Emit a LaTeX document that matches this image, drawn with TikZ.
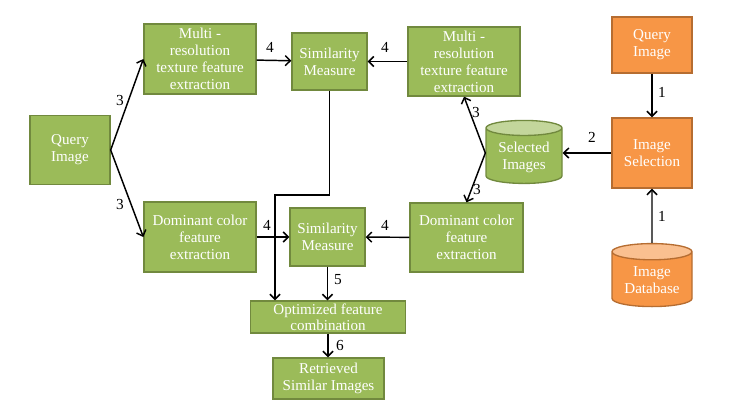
\documentclass[tikz,border=0pt]{standalone}
\usepackage{fontspec}
\setmainfont{Liberation Serif}
\usepackage{tikz}
\usetikzlibrary{shapes.geometric, arrows.meta, calc}
\usepackage{xcolor}
\definecolor{olivebox}{RGB}{155,187,89}
\definecolor{oliveline}{RGB}{113,137,62}
\definecolor{olivetop}{RGB}{195,214,155}
\definecolor{orangebox}{RGB}{247,150,70}
\definecolor{orangeline}{RGB}{182,109,49}
\definecolor{orangetop}{RGB}{250,192,144}

\begin{document}
\begin{tikzpicture}[x=0.75pt,y=-0.75pt]
        \tikzstyle{box}=[rectangle,draw=oliveline,fill=olivebox,line width=1pt,text=white,align=center,inner sep=1pt,font=\fontsize{11.3}{12.8}\selectfont]
        \tikzstyle{obox}=[box,draw=orangeline,fill=orangebox]
        \tikzstyle{db}=[cylinder,shape border rotate=90,aspect=0.28,draw=oliveline,line width=1pt,text=white,align=center,inner sep=1pt,font=\fontsize{11.3}{12.8}\selectfont,cylinder uses custom fill,cylinder body fill=olivebox,cylinder end fill=olivetop]
        \tikzstyle{odb}=[db,draw=orangeline,cylinder body fill=orangebox,cylinder end fill=orangetop]
        \tikzstyle{num}=[inner sep=0pt,font=\fontsize{11.5}{12}\selectfont]
        \tikzstyle{link}=[line width=1.1pt,-{Straight Barb[length=3.8pt,width=7.5pt]}]
        \useasboundingbox (0,0) rectangle (748,415);
        % left branch
        \node (qimg)[box,minimum width=60pt,minimum height=51.75pt] at (70,150) {Query\\Image};
        \node (mtl)[box,minimum width=84pt,minimum height=52.5pt] at (200,59) {Multi -\\resolution\\texture feature\\extraction};
        \node (dcl)[box,minimum width=84pt,minimum height=52.5pt] at (200,237) {Dominant color\\feature\\extraction};
        % similarity measures
        \node (simt)[box,minimum width=56.25pt,minimum height=42.75pt] at (329.5,61.5) {Similarity\\Measure};
        \node (simb)[box,minimum width=56.25pt,minimum height=43.5pt] at (327.5,237) {Similarity\\Measure};
        % right branch
        \node (mtr)[box,minimum width=84pt,minimum height=51.75pt] at (464,61.5) {Multi -\\resolution\\texture feature\\extraction};
        \node (dcr)[box,minimum width=84.75pt,minimum height=51.75pt] at (466.5,237.5) {Dominant color\\feature\\extraction};
        \node (sel)[db,minimum width=57pt,minimum height=47.25pt] at (524,157) {Selected\\Images};
        % query side
        \node (qorg)[obox,minimum width=60pt,minimum height=42pt] at (652,45) {Query\\Image};
        \node (isel)[obox,minimum width=60pt,minimum height=52.5pt] at (652,153) {Image\\Selection};
        \node (idb)[odb,minimum width=60pt,minimum height=47.25pt] at (652,280.5) {Image\\Database};
        % output
        \node (opt)[box,minimum width=116.25pt,minimum height=24pt,inner sep=0pt,font=\fontsize{11.3}{12.3}\selectfont] at (328,317) {Optimized feature\\combination};
        \node (ret)[box,minimum width=83.25pt,minimum height=30.75pt] at (328.5,378.5) {Retrieved\\Similar Images};
        % connectors
        \coordinate (selw) at (sel.west |- isel.west);
        \draw[link] (qorg) -- (isel);
        \draw[link] (idb) -- (isel);
        \draw[link] (isel.west) -- (isel.west -| sel.east);
        \draw[link] (selw) -- (mtr.south);
        \draw[link] (selw) -- (dcr.north);
        \draw[link] (qimg.east) -- (mtl.west);
        \draw[link] (qimg.east) -- (dcl.west);
        \draw[link] (mtl) -- (simt);
        \draw[link] (mtr) -- (simt);
        \draw[link] (dcl) -- (simb);
        \draw[link] (dcr) -- (simb);
        \coordinate (bend) at (275,195);
        \draw[link] (simt.south) |- (bend) -- (bend |- opt.north);
        \draw[link] (simb) -- (simb |- opt.north);
        \draw[link] (opt) -- (opt |- ret.north);
        % step numbers
        \node (n1a)[num] at (662,92) {1};
        \node (n1b)[num] at (662,216) {1};
        \node (n2)[num] at (592,137) {2};
        \node (n3a)[num] at (120,100) {3};
        \node (n3b)[num] at (120,204) {3};
        \node (n3c)[num] at (476,112) {3};
        \node (n3d)[num] at (477,189) {3};
        \node (n4a)[num] at (270,47) {4};
        \node (n4b)[num] at (385,47) {4};
        \node (n4c)[num] at (267,225) {4};
        \node (n4d)[num] at (385,225) {4};
        \node (n5)[num] at (338,280) {5};
        \node (n6)[num] at (340,345) {6};
\end{tikzpicture}
\end{document}
